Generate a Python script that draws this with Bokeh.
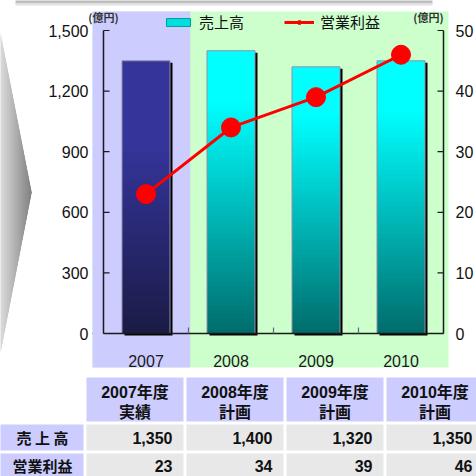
import numpy as np
from bokeh.plotting import figure
from bokeh.models import (Range1d, LinearAxis, FixedTicker, NumeralTickFormatter,
                          ColumnDataSource, Legend, LegendItem)
from bokeh.core.properties import value
from bokeh.embed import file_html
from bokeh.resources import INLINE

# ---------------- data ----------------
years = ["2007", "2008", "2009", "2010"]
sales = [1350, 1400, 1320, 1350]          # 売上高 (億円)
profit = [23, 34, 39, 46]                 # 営業利益 (億円)
left_ticks = [0, 300, 600, 900, 1200, 1500]
right_ticks = [0, 10, 20, 30, 40, 50]
header_top = ["2007年度", "2008年度", "2009年度", "2010年度"]
header_bottom = ["実績", "計画", "計画", "計画"]
row_labels = ["売 上 高", "営業利益"]
series_names = ["売上高", "営業利益"]
unit_label = "(億円)"

# ---------------- layout constants (pixels) ----------------
FL, FR, FT, FB = 92, 448, 11, 367           # frame = coloured panel
Y_ZERO, Y_TOP = 333, 30                     # pixel rows of 0 and 1500
PPU_Y = (Y_ZERO - Y_TOP) / left_ticks[-1]
X_AXIS_PX, CAT_PX = 103, 85
X0 = (FL - X_AXIS_PX) / CAT_PX - 0.5
X1 = (FR - X_AXIS_PX) / CAT_PX - 0.5
Y0 = -(FB - Y_ZERO) / PPU_Y
Y1 = (Y_ZERO - FT) / PPU_Y
RATIO = right_ticks[-1] / left_ticks[-1]

SANS = value("Liberation Sans")
JP = value("Noto Sans CJK JP")
MIX = value("Liberation Sans, Noto Sans CJK JP")

p = figure(width=476, height=476, output_backend="svg", toolbar_location=None,
           x_range=Range1d(X0, X1), y_range=Range1d(Y0, Y1),
           x_axis_location=None, y_axis_location="left",
           min_border=0, min_border_left=FL, min_border_right=476 - FR,
           min_border_top=FT, min_border_bottom=476 - FB,
           background_fill_color="#ccffcc", border_fill_color="white",
           outline_line_color=None)
p.grid.visible = False
p.extra_x_ranges = {"px": Range1d(FL, FR)}
p.extra_y_ranges = {"py": Range1d(FB, FT), "right": Range1d(Y0 * RATIO, Y1 * RATIO)}

# axes (labels only; lines are drawn inside the panel)
ya = p.yaxis[0]
ya.ticker = FixedTicker(ticks=left_ticks)
ya.formatter = NumeralTickFormatter(format="0,0")
ra = LinearAxis(y_range_name="right", ticker=FixedTicker(ticks=right_ticks))
p.add_layout(ra, "right")
for ax, standoff in [(ya, 4), (ra, 7)]:
    ax.axis_line_color = None
    ax.major_tick_line_color = None
    ax.minor_tick_line_color = None
    ax.major_tick_in = 0
    ax.major_tick_out = 0
    ax.minor_tick_in = 0
    ax.minor_tick_out = 0
    ax.major_label_standoff = standoff
    ax.major_label_text_font = "Liberation Sans"
    ax.major_label_text_font_size = "16px"
    ax.major_label_text_color = "#111111"

# purple panel behind 2007
p.quad(left=X0 - 1, right=0.52, bottom=Y0 - 100, top=Y1 + 100,
       fill_color="#ccccff", line_color=None)

idx = list(range(len(years)))
BAR_W = 48 / CAT_PX

# shadows
dx, dy = 2.5 / CAT_PX, 2 / PPU_Y
p.vbar(x=[i + dx for i in idx], top=[v - dy for v in sales], bottom=-dy,
       width=BAR_W, fill_color="black", line_color=None)

# gradient bars built from slices
def hex2rgb(h):
    h = h.lstrip("#")
    return np.array([int(h[i:i + 2], 16) for i in (0, 2, 4)], float)

def mix(c0, c1, t):
    c = hex2rgb(c0) * (1 - t) + hex2rgb(c1) * t
    return "#%02x%02x%02x" % tuple(int(round(v)) for v in c)

palettes = [("#1b1b46", "#34349a", 0.68)] + [("#006b6b", "#00ffff", 0.82)] * 3
N = 60
sx, stop, sbot, scol = [], [], [], []
for i, v in zip(idx, sales):
    c_bot, c_top, hold = palettes[i]
    for k in range(N):
        s = (k + 0.5) / N
        t = min(1.0, s / hold)
        sx.append(i)
        sbot.append(v * k / N)
        stop.append(v * (k + 1) / N + (0 if k == N - 1 else v / N * 0.3))
        scol.append(mix(c_bot, c_top, t))
slices = ColumnDataSource(dict(x=sx, top=stop, bottom=sbot, color=scol))
p.vbar(x="x", top="top", bottom="bottom", width=BAR_W, fill_color="color",
       line_color=None, source=slices)
p.vbar(x=idx, top=sales, width=BAR_W, fill_color=None,
       line_color="#9090a8", line_width=1)

# inner axis lines and ticks
p.segment(x0=[-0.5, 3.5, -0.5], y0=[0, 0, 0], x1=[-0.5, 3.5, 3.5],
          y1=[left_ticks[-1], left_ticks[-1], 0], line_color="#1a1a1a", line_width=1.5)
TL = 6
p.segment(x0=[-0.5] * len(left_ticks), y0=left_ticks,
          x1=[-0.5 + TL / CAT_PX] * len(left_ticks), y1=left_ticks,
          line_color="#1a1a1a", line_width=1.2)
p.segment(x0=[3.5] * len(right_ticks), y0=right_ticks,
          x1=[3.5 - TL / CAT_PX] * len(right_ticks), y1=right_ticks,
          line_color="#1a1a1a", line_width=1.2, y_range_name="right")
p.segment(x0=[i + 0.5 for i in idx[:-1]], y0=[0] * 3,
          x1=[i + 0.5 for i in idx[:-1]], y1=[TL / PPU_Y] * 3,
          line_color="#666677", line_width=1.2)

# profit line
line_r = p.line(x=idx, y=profit, y_range_name="right", line_color="#ff0000", line_width=3)
dot_r = p.scatter(x=idx, y=profit, y_range_name="right", size=19,
                  fill_color="#ff0000", line_color="#ff0000")

# category labels
p.text(x=idx, y=[360] * 4, y_range_name="py", text=years, text_align="center",
       text_baseline="middle", text_font=SANS, text_font_size="16px",
       text_color="#1a1a1a")

# legend (key renderer for the bars sits outside the visible range)
key_bar = p.vbar(x=[-9], top=[1], width=0.5, fill_color="#00dede",
                 line_color="#00a0a0", line_width=1)
legend = Legend(items=[LegendItem(label=series_names[0], renderers=[key_bar]),
                       LegendItem(label=series_names[1], renderers=[line_r, dot_r])],
                orientation="horizontal", location=(71, FB - FT - 1 - 20),
                background_fill_alpha=0, border_line_color=None, padding=0, margin=0,
                spacing=40, glyph_width=30, glyph_height=10, label_standoff=6,
                label_height=20, label_text_font="Noto Sans CJK JP",
                label_text_font_size="15px", label_text_color="#111111",
                label_text_baseline="middle")
p.add_layout(legend)

# unit labels
p.text(x=[103, 428], y=[16, 16], x_range_name="px", y_range_name="py",
       text=[unit_label, unit_label], text_align="center", text_baseline="middle",
       text_font=JP, text_font_size="11px", text_font_style="bold",
       text_color="#333333", level="overlay")

# decorative arrow on the left (gradient, drawn as thin vertical strips)
for k in range(31):
    a, b = k, k + 1
    ta, tb = 33 + 159 * a / 31, 33 + 159 * min(b, 31) / 31
    ba, bb = 352 - 160 * a / 31, 352 - 160 * min(b, 31) / 31
    c = mix("#dadada", "#7a7a7a", (k + 0.5) / 31)
    p.patch(x=[a, b + 0.4, b + 0.4, a], y=[ta, tb, bb, ba],
            x_range_name="px", y_range_name="py", fill_color=c,
            line_color=None, level="overlay")

# top strip
p.quad(left=[15, 15], right=[432, 432], top=[0, 3], bottom=[3, 5],
       x_range_name="px", y_range_name="py", fill_color=["#bdbdbd", "#e2e2e2"],
       line_color=None, level="overlay")

# table
col_l = [86 + 100 * i for i in idx]
col_r = [c + 97 for c in col_l]
p.quad(left=col_l, right=col_r, top=[377] * 4, bottom=[421] * 4,
       x_range_name="px", y_range_name="py", fill_color="#ccccff", line_color=None,
       level="overlay")
p.quad(left=[0, 0], right=[83, 83], top=[424, 453], bottom=[450, 479],
       x_range_name="px", y_range_name="py", fill_color="#ccccff", line_color=None,
       level="overlay")
p.quad(left=col_l * 2, right=col_r * 2, top=[424] * 4 + [453] * 4,
       bottom=[450] * 4 + [479] * 4, x_range_name="px", y_range_name="py",
       fill_color="#e8e8e8", line_color=None, level="overlay")
ccx = [(a + b) / 2 for a, b in zip(col_l, col_r)]
p.text(x=ccx, y=[392] * 4, text=header_top, x_range_name="px", y_range_name="py",
       text_align="center", text_baseline="middle", text_font=MIX,
       text_font_size="16px", text_font_style="bold", text_color="#111111",
       level="overlay")
p.text(x=ccx, y=[410] * 4, text=header_bottom, x_range_name="px", y_range_name="py",
       text_align="center", text_baseline="middle", text_font=JP,
       text_font_size="16px", text_font_style="bold", text_color="#111111",
       level="overlay")
p.text(x=[42, 42], y=[437, 465], text=row_labels, x_range_name="px", y_range_name="py",
       text_align="center", text_baseline="middle", text_font=JP,
       text_font_size="15px", text_font_style="bold", text_color="#111111",
       level="overlay")
vals = ["{:,}".format(v) for v in sales] + ["{:,}".format(v) for v in profit]
p.text(x=[c - 11 for c in col_r] * 2, y=[437] * 4 + [465] * 4, text=vals,
       x_range_name="px", y_range_name="py", text_align="right",
       text_baseline="middle", text_font=SANS, text_font_size="16px",
       text_font_style="bold", text_color="#111111", level="overlay")

open("out.html", "w").write(file_html(p, INLINE))
